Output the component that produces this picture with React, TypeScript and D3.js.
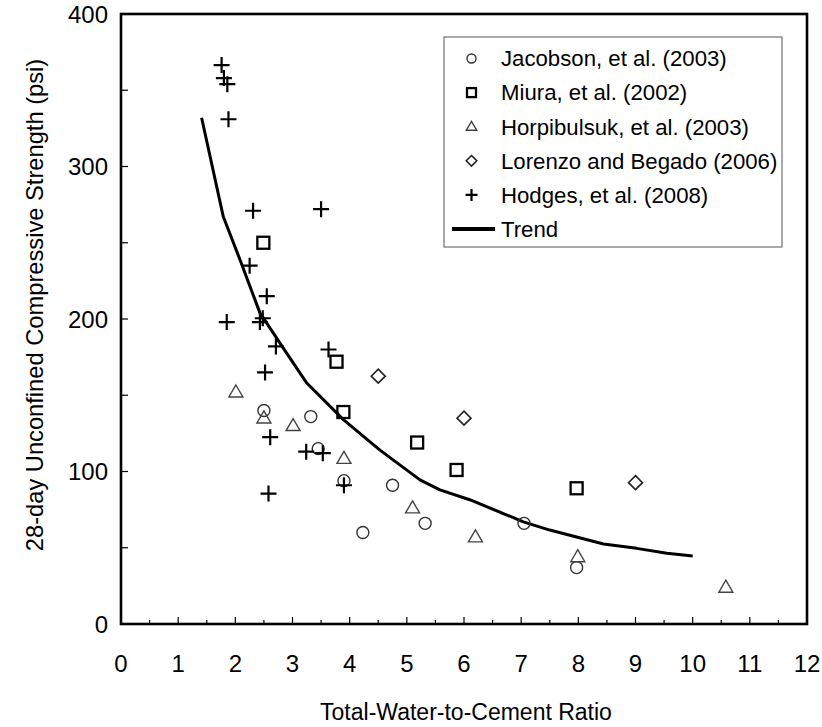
import React from "react";
import * as d3 from "d3";

// Jacobson, et al. (2003)
const jacobsonX = [2.5, 3.32, 3.45, 3.9, 4.23, 4.75, 5.32, 7.05, 7.97];
const jacobsonY = [140, 136, 115, 94, 60, 91, 66, 66, 37];
// Miura, et al. (2002)
const miuraX = [2.49, 3.77, 3.89, 5.18, 5.87, 7.97];
const miuraY = [250, 172, 139, 119, 101, 89];
// Horpibulsuk, et al. (2003)
const horpX = [2.01, 2.5, 3.01, 3.9, 5.1, 6.2, 7.99, 10.58];
const horpY = [152, 135, 130, 108.5, 76, 57, 44, 24];
// Lorenzo and Begado (2006)
const lorenzoX = [4.5, 6.0, 9.0];
const lorenzoY = [162.5, 135, 92.7];
// Hodges, et al. (2008)
const hodgesX = [1.76, 1.8, 1.86, 1.88, 2.31, 3.5, 2.25, 2.55, 1.85, 2.43, 2.48, 2.71, 3.63, 2.52, 2.61, 3.24, 3.53, 3.9, 2.58];
const hodgesY = [366.5, 358, 354, 331, 271, 272, 235, 215, 198, 198, 200.5, 182, 180, 165, 122.5, 113, 112, 91, 85.5];
// Trend curve
const trendX = [1.41, 1.79, 2.08, 2.43, 2.9, 3.25, 3.89, 4.53, 5.23, 5.58, 6.1, 7.04, 7.5, 8.44, 9.02, 9.55, 10.0];
const trendY = [332, 267, 239, 204, 177.5, 158, 134, 114, 94.5, 88, 81.5, 67, 61.6, 52.5, 49.6, 46.4, 44.6];

const xTicks = d3.range(0, 13);
const xMinorTicks = d3.range(0.5, 12, 1);
const yTicks = [0, 100, 200, 300, 400];
const yMinorTicks = d3.range(0, 401, 50);

const legendLabels = [
  "Jacobson, et al. (2003)",
  "Miura, et al. (2002)",
  "Horpibulsuk, et al. (2003)",
  "Lorenzo and Begado (2006)",
  "Hodges, et al. (2008)",
  "Trend",
];

const FONT = "'Liberation Sans', Arial, sans-serif";

const x = d3.scaleLinear().domain([0, 12]).range([121, 807]);
const y = d3.scaleLinear().domain([0, 400]).range([624, 14]);

type Kind = "circle" | "square" | "triangle" | "diamond" | "plus";

function Marker({ kind, cx, cy, s = 1 }: { kind: Kind; cx: number; cy: number; s?: number }) {
  switch (kind) {
    case "circle":
      return <circle cx={cx} cy={cy} r={6 * s} fill="none" stroke="#333" strokeWidth={1.4} />;
    case "square":
      return (
        <rect x={cx - 6 * s} y={cy - 6 * s} width={12 * s} height={12 * s} fill="none" stroke="#000" strokeWidth={2.3} />
      );
    case "triangle": {
      const w = 7 * s;
      const h = 12 * s;
      return (
        <path
          d={`M${cx},${cy - h * 0.6}L${cx + w},${cy + h * 0.4}L${cx - w},${cy + h * 0.4}Z`}
          fill="none"
          stroke="#444"
          strokeWidth={1.4}
        />
      );
    }
    case "diamond": {
      const r = 7 * s;
      return (
        <path
          d={`M${cx},${cy - r}L${cx + r},${cy}L${cx},${cy + r}L${cx - r},${cy}Z`}
          fill="none"
          stroke="#222"
          strokeWidth={1.6}
        />
      );
    }
    case "plus": {
      const r = 8 * s;
      return (
        <path d={`M${cx - r},${cy}H${cx + r}M${cx},${cy - r}V${cy + r}`} stroke="#000" strokeWidth={2.2} fill="none" />
      );
    }
  }
}

const series: { kind: Kind; xs: number[]; ys: number[] }[] = [
  { kind: "circle", xs: jacobsonX, ys: jacobsonY },
  { kind: "square", xs: miuraX, ys: miuraY },
  { kind: "triangle", xs: horpX, ys: horpY },
  { kind: "diamond", xs: lorenzoX, ys: lorenzoY },
  { kind: "plus", xs: hodgesX, ys: hodgesY },
];

export default function App() {
  const trendPath =
    d3
      .line<number>()
      .x((_, i) => x(trendX[i]))
      .y((d) => y(d))(trendY) || "";

  const legendKinds: Kind[] = ["circle", "square", "triangle", "diamond", "plus"];
  const legendTop = 58.5;
  const legendStep = 34.1;

  return (
    <svg
      width={822}
      height={727}
      style={{ position: "absolute", left: 0, top: 0, background: "#fff" }}
      fontFamily={FONT}
    >
      <rect x={0} y={0} width={822} height={727} fill="#fff" />

      {/* y ticks */}
      {yMinorTicks.map((t) => (
        <line key={"yt" + t} x1={x(0)} x2={x(0) + 7} y1={y(t)} y2={y(t)} stroke="#000" strokeWidth={1.2} />
      ))}
      {/* x ticks */}
      {xTicks.map((t) => (
        <line key={"xt" + t} x1={x(t)} x2={x(t)} y1={y(0)} y2={y(0) - 7} stroke="#000" strokeWidth={1.2} />
      ))}
      {xMinorTicks.map((t) => (
        <line key={"xm" + t} x1={x(t)} x2={x(t)} y1={y(0)} y2={y(0) - 4} stroke="#000" strokeWidth={1.2} />
      ))}

      {/* trend */}
      <path d={trendPath} fill="none" stroke="#000" strokeWidth={3} strokeLinejoin="round" />

      {/* markers */}
      {series.map((s) =>
        s.xs.map((v, i) => <Marker key={s.kind + i} kind={s.kind} cx={x(v)} cy={y(s.ys[i])} />)
      )}

      {/* frame */}
      <rect x={x(0)} y={y(400)} width={x(12) - x(0)} height={y(0) - y(400)} fill="none" stroke="#000" strokeWidth={2.6} />

      {/* tick labels */}
      {yTicks.map((t) => (
        <text key={"yl" + t} x={108} y={y(t) + 8.5} textAnchor="end" fontSize={24} fill="#000">
          {t}
        </text>
      ))}
      {xTicks.map((t) => (
        <text key={"xl" + t} x={x(t)} y={672} textAnchor="middle" fontSize={24} fill="#000">
          {t}
        </text>
      ))}

      {/* axis titles */}
      <text x={466} y={720} textAnchor="middle" fontSize={23} fill="#000">
        Total-Water-to-Cement Ratio
      </text>
      <text transform={`translate(43,${305}) rotate(-90)`} textAnchor="middle" fontSize={23.7} fill="#000">
        28-day Unconfined Compressive Strength (psi)
      </text>

      {/* legend */}
      <rect x={444} y={37} width={338} height={210} fill="#fff" stroke="#555" strokeWidth={1} />
      {legendKinds.map((k, i) => (
        <Marker key={"lg" + k} kind={k} cx={471.5} cy={legendTop + i * legendStep} s={0.75} />
      ))}
      <line x1={452} x2={495} y1={legendTop + 5 * legendStep} y2={legendTop + 5 * legendStep} stroke="#000" strokeWidth={4} />
      {legendLabels.map((l, i) => (
        <text key={"lt" + i} x={501} y={legendTop + i * legendStep + 7.8} fontSize={22.2} fill="#000">
          {l}
        </text>
      ))}
    </svg>
  );
}
